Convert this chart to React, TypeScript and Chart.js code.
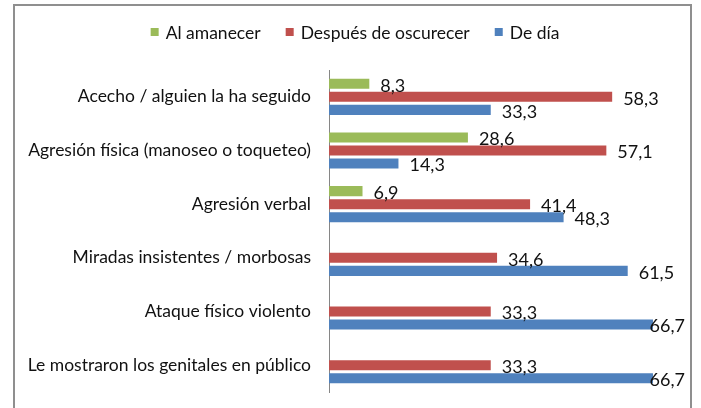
import React, { useEffect, useRef } from "react";
import { Chart, registerables } from "chart.js";

Chart.register(...registerables);

const categories = [
  "Acecho / alguien la ha seguido",
  "Agresión física (manoseo o toqueteo)",
  "Agresión verbal",
  "Miradas insistentes / morbosas",
  "Ataque físico violento",
  "Le mostraron los genitales en público",
];
const seriesNames = ["Al amanecer", "Después de oscurecer", "De día"];
const alAmanecer: (number | null)[] = [8.3, 28.6, 6.9, null, null, null];
const despuesOscurecer: (number | null)[] = [58.3, 57.1, 41.4, 34.6, 33.3, 33.3];
const deDia: (number | null)[] = [33.3, 14.3, 48.3, 61.5, 66.7, 66.7];
const colors = ["#9BBB59", "#C0504D", "#4F81BD"];

const FONT = "Lato, 'Noto Sans', sans-serif";

const framePlugin = {
  id: "frame",
  beforeDraw(chart: any) {
    const ctx = chart.ctx;
    ctx.save();
    ctx.fillStyle = "#ffffff";
    ctx.fillRect(0, 0, chart.width, chart.height);
    ctx.fillStyle = "#8f8f8f";
    ctx.fillRect(13, 4, 679, 2);
    ctx.fillRect(13, 4, 2, chart.height);
    ctx.fillRect(690, 4, 2, chart.height);
    ctx.restore();
  },
};

const legendPlugin = {
  id: "customLegend",
  afterDraw(chart: any) {
    const ctx = chart.ctx;
    ctx.save();
    ctx.font = `17.5px ${FONT}`;
    const box = 8;
    const gapText = 7;
    const gapItem = 25;
    const items = chart.data.datasets.map((d: any) => ({
      label: d.label,
      color: d.backgroundColor,
      w: ctx.measureText(d.label).width,
    }));
    let total = 0;
    items.forEach((it: any, i: number) => {
      total += box + gapText + it.w + (i < items.length - 1 ? gapItem : 0);
    });
    let x = 355 - total / 2;
    const cy = 32;
    ctx.textBaseline = "middle";
    ctx.textAlign = "left";
    items.forEach((it: any) => {
      ctx.fillStyle = it.color;
      ctx.fillRect(x, cy - box / 2, box, box);
      x += box + gapText;
      ctx.fillStyle = "#111111";
      ctx.fillText(it.label, x, cy + 1);
      x += it.w + gapItem;
    });
    ctx.restore();
  },
};

const valueLabelPlugin = {
  id: "valueLabels",
  afterDatasetsDraw(chart: any) {
    const ctx = chart.ctx;
    ctx.save();
    ctx.font = `18px ${FONT}`;
    ctx.fillStyle = "#111111";
    ctx.textBaseline = "middle";
    ctx.textAlign = "left";
    chart.data.datasets.forEach((ds: any, di: number) => {
      const meta = chart.getDatasetMeta(di);
      meta.data.forEach((el: any, i: number) => {
        const v = ds.data[i];
        if (v === null || v === undefined) return;
        const text = v.toFixed(1).replace(".", ",");
        const w = ctx.measureText(text).width;
        let x = el.x + 11;
        if (x + w > 685) x = 685 - w;
        ctx.fillText(text, x, el.y + 2);
      });
    });
    ctx.restore();
  },
};

export default function App() {
  const ref = useRef<HTMLCanvasElement>(null);
  useEffect(() => {
    if (!ref.current) return;
    const chart = new Chart(ref.current, {
      type: "bar",
      data: {
        labels: categories,
        datasets: [
          { label: seriesNames[0], data: alAmanecer, backgroundColor: colors[0] },
          { label: seriesNames[1], data: despuesOscurecer, backgroundColor: colors[1] },
          { label: seriesNames[2], data: deDia, backgroundColor: colors[2] },
        ],
      },
      options: {
        indexAxis: "y",
        responsive: false,
        animation: false,
        devicePixelRatio: 1,
        datasets: {
          bar: { categoryPercentage: 0.73, barPercentage: 0.77 },
        },
        layout: { padding: { top: 70, bottom: 16, right: 32, left: 0 } },
        plugins: {
          legend: { display: false },
          tooltip: { enabled: false },
        },
        scales: {
          x: { display: false, min: 0, max: 70 },
          y: {
            grid: { display: false, drawTicks: false },
            border: { display: true, color: "#868686", width: 1 },
            ticks: {
              font: { family: FONT, size: 17.5 },
              color: "#111111",
              padding: 18,
            },
            afterFit(scale: any) {
              scale.width = 329;
              scale.paddingTop = 0;
              scale.paddingBottom = 0;
            },
          },
        },
      },
      plugins: [framePlugin, legendPlugin, valueLabelPlugin],
    } as any);
    return () => chart.destroy();
  }, []);
  return (
    <div style={{ position: "absolute", left: 0, top: 0, width: 701, height: 408 }}>
      <canvas ref={ref} width={701} height={408} />
    </div>
  );
}
